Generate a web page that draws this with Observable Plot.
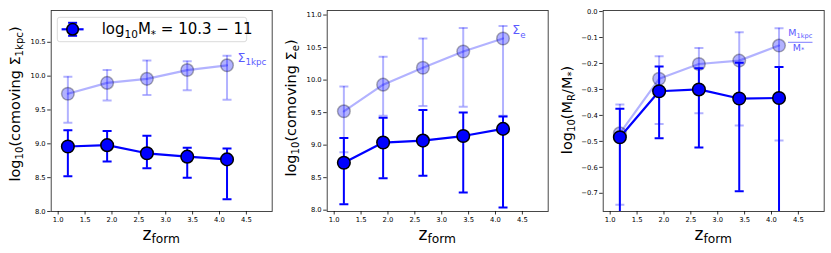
<!DOCTYPE html>
<html><head><meta charset="utf-8">
<script src="https://cdn.jsdelivr.net/npm/d3@7"></script>
<script src="https://cdn.jsdelivr.net/npm/@observablehq/plot@0.6"></script>
<style>
body{margin:0;background:#fff;}
#c{position:relative;width:831px;height:253px;font-family:"DejaVu Sans";}
#c svg{position:absolute;top:0;overflow:visible;}
</style>
</head><body><div id="c"></div>
<script>
// ---- data ----
const zform = [1.18, 1.91, 2.65, 3.40, 4.14];
const xTicks = [1.0, 1.5, 2.0, 2.5, 3.0, 3.5, 4.0, 4.5];

// Panel 1: comoving Sigma_1kpc
const s1kpcDark   = [8.96, 8.98, 8.86, 8.81, 8.77];
const s1kpcDarkHi = [9.20, 9.19, 9.12, 8.94, 8.93];
const s1kpcDarkLo = [8.52, 8.74, 8.64, 8.50, 8.18];
const s1kpcLight   = [9.74, 9.90, 9.96, 10.09, 10.16];
const s1kpcLightHi = [9.99, 10.09, 10.23, 10.22, 10.30];
const s1kpcLightLo = [9.31, 9.64, 9.72, 9.79, 9.65];
const yTicks1 = [8.0, 8.5, 9.0, 9.5, 10.0, 10.5];

// Panel 2: comoving Sigma_e
const seDark   = [8.73, 9.04, 9.07, 9.14, 9.25];
const seDarkHi = [9.11, 9.42, 9.54, 9.50, 9.44];
const seDarkLo = [8.09, 8.49, 8.53, 8.27, 8.04];
const seLight   = [9.52, 9.93, 10.19, 10.44, 10.64];
const seLightHi = [9.90, 10.36, 10.64, 10.80, 10.83];
const seLightLo = [8.89, 9.45, 9.60, 9.59, 9.45];
const yTicks2 = [8.0, 8.5, 9.0, 9.5, 10.0, 10.5, 11.0];

// Panel 3: log10(M_R / M*)
const mrDark   = [-0.484, -0.307, -0.300, -0.335, -0.333];
const mrDarkHi = [-0.374, -0.212, -0.218, -0.197, -0.214];
const mrDarkLo = [-0.80, -0.488, -0.524, -0.692, -0.85];
const mrLight   = [-0.469, -0.259, -0.202, -0.189, -0.131];
const mrLightHi = [-0.358, -0.172, -0.140, -0.080, -0.064];
const mrLightLo = [-0.744, -0.433, -0.392, -0.439, -0.497];
const yTicks3 = [-0.7, -0.6, -0.5, -0.4, -0.3, -0.2, -0.1, 0.0];

const legendLabel = "log10M* = 10.3 − 11";

// ---- helpers ----
const rows = (v, lo, hi) => zform.map((z, i) => ({z, v: v[i], lo: lo[i], hi: hi[i]}));
const capSymbol = {draw(ctx, size){ const r = Math.sqrt(size / Math.PI); ctx.moveTo(-r, 0); ctx.lineTo(r, 0); }};

function seriesMarks(data, alpha){
  return [
    Plot.ruleX(data, {x: "z", y1: "lo", y2: "hi", stroke: "blue", strokeOpacity: alpha, strokeWidth: 2, clip: true}),
    Plot.dot(data, {x: "z", y: "lo", symbol: capSymbol, r: 4.5, fill: "none", stroke: "blue", strokeOpacity: alpha, strokeWidth: 2, clip: true}),
    Plot.dot(data, {x: "z", y: "hi", symbol: capSymbol, r: 4.5, fill: "none", stroke: "blue", strokeOpacity: alpha, strokeWidth: 2, clip: true}),
    Plot.line(data, {x: "z", y: "v", stroke: "blue", strokeOpacity: alpha, strokeWidth: 2.2}),
    Plot.dot(data, {x: "z", y: "v", r: 6.3, fill: "blue", fillOpacity: alpha, stroke: "black", strokeOpacity: alpha, strokeWidth: 1.5})
  ];
}

// rich text: parts = [[text, kind]] kind: "n" normal, "s" subscript
function rich(sel, parts, size, subScale, subShift){
  let shifted = false;
  parts.forEach(([t, k]) => {
    const ts = sel.append("tspan").text(t);
    if (k === "s") {
      ts.attr("font-size", size * subScale);
      if (!shifted) { ts.attr("dy", subShift); shifted = true; }
    } else {
      ts.attr("font-size", size);
      if (shifted) { ts.attr("dy", -subShift); shifted = false; }
    }
  });
  return sel;
}

const panels = [
  {left: 0, mL: 50.7, domain: [8.0, 10.97], yt: yTicks1, fmt: ".1f",
   dark: rows(s1kpcDark, s1kpcDarkLo, s1kpcDarkHi), light: rows(s1kpcLight, s1kpcLightLo, s1kpcLightHi),
   ylab: [["log","n"],["10","s"],["(comoving Σ","n"],["1kpc","s"],[")","n"]], ylx: 19.5, yly: 104},
  {left: 276, mL: 50.7, domain: [7.98, 11.07], yt: yTicks2, fmt: ".1f",
   dark: rows(seDark, seDarkLo, seDarkHi), light: rows(seLight, seLightLo, seLightHi),
   ylab: [["log","n"],["10","s"],["(comoving Σ","n"],["e","s"],[")","n"]], ylx: 19.5, yly: 108},
  {left: 551.6, mL: 50.7, domain: [-0.77, 0.004], yt: yTicks3, fmt: ".1f",
   dark: rows(mrDark, mrDarkLo, mrDarkHi), light: rows(mrLight, mrLightLo, mrLightHi),
   ylab: [["log","n"],["10","s"],["(M","n"],["R","s"],["/M","n"],["*","s"],[")","n"]], ylx: 19.5, yly: 110}
];

const container = document.getElementById("c");
const svgs = panels.map((p, i) => {
  const chart = Plot.plot({
    width: p.mL + 221 + 6, height: 253,
    marginLeft: p.mL, marginRight: 6, marginTop: 10, marginBottom: 42,
    style: {fontFamily: "DejaVu Sans", fontSize: "6.8px", color: "#000", background: "transparent"},
    x: {domain: [0.87, 4.98]},
    y: {domain: p.domain},
    marks: [
      ...seriesMarks(p.light, 0.3),
      ...seriesMarks(p.dark, 1),
      Plot.frame({stroke: "#333", strokeWidth: 0.9}),
      Plot.axisX({ticks: xTicks, tickFormat: ".1f", tickSize: 3.5, tickPadding: 2, label: null, strokeWidth: 0.8}),
      Plot.axisY({ticks: p.yt, tickFormat: p.fmt, tickSize: 3.5, tickPadding: 2, label: null, strokeWidth: 0.8})
    ]
  });
  chart.style.left = p.left + "px";
  container.appendChild(chart);
  const svg = d3.select(chart);
  // y label
  const yl = svg.append("text")
    .attr("transform", `translate(${p.ylx},${p.yly}) rotate(-90)`)
    .attr("text-anchor", "middle").attr("fill", "#000").attr("font-family", "DejaVu Sans");
  rich(yl, p.ylab, 14.5, 0.7, 3);
  // x label
  const xl = svg.append("text").attr("x", p.mL + 110.5).attr("y", 240)
    .attr("text-anchor", "middle").attr("fill", "#000").attr("font-family", "DejaVu Sans");
  rich(xl, [["z","n"],["form","s"]], 17, 0.72, 3.5);
  return svg;
});

// annotations
const annColor = "#5a5aff";
{
  const t = svgs[0].append("text").attr("x", 237.5).attr("y", 62).attr("text-anchor","start").attr("fill", annColor).attr("font-family","DejaVu Sans");
  rich(t, [["Σ","n"],["1kpc","s"]], 12.5, 0.7, 3.5);
  const t2 = svgs[1].append("text").attr("x", 236.3).attr("y", 34.5).attr("text-anchor","start").attr("fill", annColor).attr("font-family","DejaVu Sans");
  rich(t2, [["Σ","n"],["e","s"]], 12.5, 0.7, 3.5);
  const g = svgs[2];
  const t3 = g.append("text").attr("x", 248.3).attr("y", 36).attr("text-anchor","middle").attr("fill", annColor).attr("font-family","DejaVu Sans");
  rich(t3, [["M","n"],["1kpc","s"]], 9.5, 0.7, 2.5);
  g.append("line").attr("x1", 236).attr("x2", 260.5).attr("y1", 42.3).attr("y2", 42.3).attr("stroke", annColor).attr("stroke-width", 0.8);
  const t4 = g.append("text").attr("x", 246.5).attr("y", 51).attr("text-anchor","middle").attr("fill", annColor).attr("font-family","DejaVu Sans");
  rich(t4, [["M","n"],["*","s"]], 9.5, 0.7, 1.5);
}

// legend in panel 1
{
  const g = svgs[0].append("g");
  g.append("rect").attr("x", 57.3).attr("y", 17.3).attr("width", 189.4).attr("height", 24.4).attr("rx", 2.5)
    .attr("fill", "#fff").attr("fill-opacity", 0.8).attr("stroke", "#d6d6d6").attr("stroke-width", 0.9);
  const cx = 72.6, cy = 29.3;
  g.append("line").attr("x1", cx - 11).attr("x2", cx + 11).attr("y1", cy).attr("y2", cy).attr("stroke", "blue").attr("stroke-width", 2.2);
  g.append("line").attr("x1", cx).attr("x2", cx).attr("y1", cy - 6.5).attr("y2", cy + 6.5).attr("stroke", "blue").attr("stroke-width", 2);
  [cy - 6.5, cy + 6.5].forEach(y => g.append("line").attr("x1", cx - 4.5).attr("x2", cx + 4.5).attr("y1", y).attr("y2", y).attr("stroke", "blue").attr("stroke-width", 2));
  g.append("circle").attr("cx", cx).attr("cy", cy).attr("r", 5.8).attr("fill", "blue").attr("stroke", "#000").attr("stroke-width", 1.5);
  const t = g.append("text").attr("x", 101.7).attr("y", 34.5).attr("text-anchor","start").attr("fill", "#000").attr("font-family", "DejaVu Sans");
  const m = legendLabel.match(/^log(10)M(\*)(.*)$/);
  rich(t, [["log","n"],[m[1],"s"],["M","n"],[m[2],"s"],[m[3],"n"]], 15, 0.7, 3.5);
}
</script>
</body></html>
